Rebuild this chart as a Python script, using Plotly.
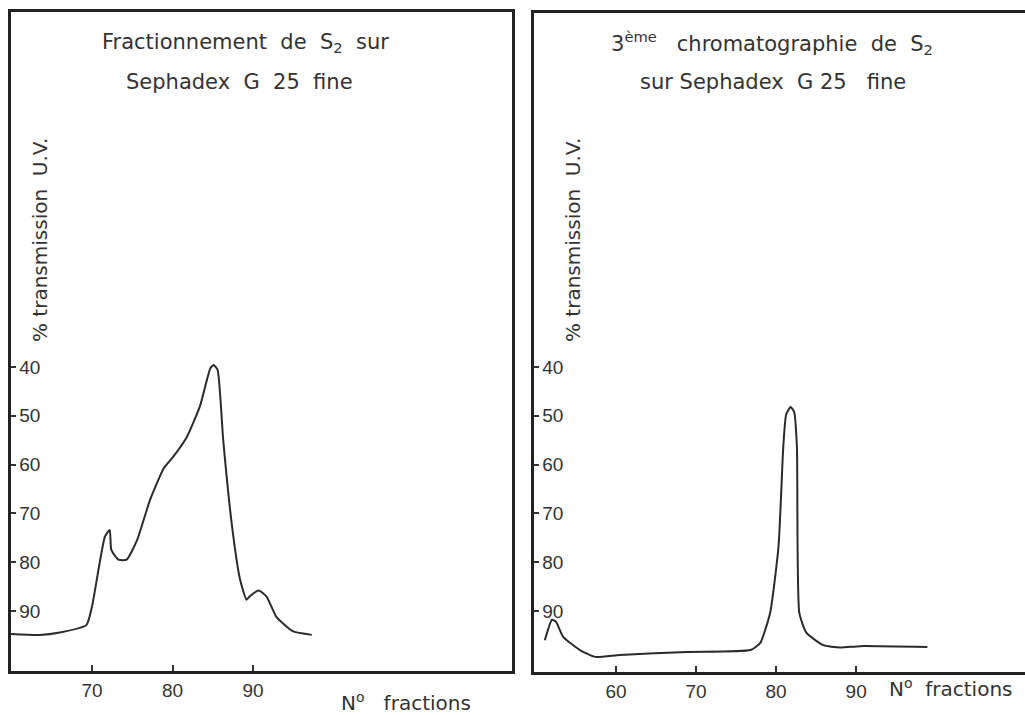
import plotly.graph_objects as go

W, H = 1025, 715

# Left panel: Fractionnement de S2 sur Sephadex G 25 fine
left_x = [59.8, 63.5, 66.0, 69.3, 70.0, 71.6, 72.2, 72.4, 73.3, 74.3, 75.6, 77.2, 78.9,
          80.1, 81.8, 83.4, 84.7, 85.1, 85.6, 86.3, 87.4, 88.4, 89.2, 89.6, 90.7, 91.7,
          92.9, 95.0, 97.3]
left_y = [94.7, 94.9, 94.4, 92.9, 89.1, 74.8, 73.4, 77.5, 79.5, 79.5, 75.5, 67.3, 60.8,
          58.4, 54.3, 48.1, 40.3, 39.6, 40.6, 55.0, 72.7, 83.6, 87.7, 87.0, 85.8, 87.1,
          91.2, 94.2, 94.9]

# Right panel: 3eme chromatographie de S2
right_x = [51.1, 52.0, 52.5, 53.4, 55.5, 57.4, 60.5, 68.9, 76.8, 78.0, 79.25, 80.3, 80.9,
           81.25, 81.8, 82.25, 82.6, 82.9, 83.8, 85.9, 88.0, 90.5, 98.9]
right_y = [96.0, 91.8, 92.2, 95.3, 98.0, 99.4, 99.0, 98.4, 98.0, 96.6, 90.4, 76.8, 56.3,
           49.8, 48.2, 49.2, 56.3, 90.4, 94.5, 97.0, 97.5, 97.2, 97.4]

left_xticks = [70, 80, 90]
right_xticks = [60, 70, 80, 90]
yticks = [40, 50, 60, 70, 80, 90]

ink = "#2b2b2b"
tickfont = dict(family="Liberation Sans", size=19, color="#333")
textfont = dict(family="DejaVu Sans", size=21, color="#333")
axisfont = dict(family="DejaVu Sans", size=20, color="#333")

fig = go.Figure()
fig.add_trace(go.Scatter(x=left_x, y=left_y, mode="lines", xaxis="x", yaxis="y",
                         line=dict(color=ink, width=2, shape="spline", smoothing=0.5),
                         showlegend=False, hoverinfo="skip"))
fig.add_trace(go.Scatter(x=right_x, y=right_y, mode="lines", xaxis="x2", yaxis="y2",
                         line=dict(color=ink, width=2, shape="spline", smoothing=0.5),
                         showlegend=False, hoverinfo="skip"))


def px(x):
    return x / W


def py(y):
    return 1 - y / H


common_x = dict(showgrid=False, zeroline=False, showline=True, linecolor="#222", linewidth=3,
                ticks="inside", ticklen=6, tickwidth=2, tickcolor="#333",
                tickfont=tickfont, fixedrange=True)
common_y = dict(showgrid=False, zeroline=False, showline=True, linecolor="#222", linewidth=3,
                ticks="inside", ticklen=5, tickwidth=2, tickcolor="#333",
                ticklabelposition="inside", ticklabelstandoff=4,
                tickfont=tickfont, fixedrange=True, tickvals=yticks)

fig.update_layout(
    width=W, height=H, margin=dict(l=0, r=0, t=0, b=0),
    paper_bgcolor="white", plot_bgcolor="white",
    xaxis=dict(domain=[px(11), px(512)], range=[59.94, 122.17], tickvals=left_xticks,
               anchor="y", mirror=True, **common_x),
    yaxis=dict(domain=[py(671), py(12)], range=[102.3, -32.7], anchor="x",
               mirror=True, **common_y),
    xaxis2=dict(domain=[px(534), 1.0], range=[49.75, 111.1], tickvals=right_xticks,
                anchor="y2", mirror=True, **common_x),
    yaxis2=dict(domain=[py(672), py(13)], range=[102.5, -32.5], anchor="x2",
                mirror=False, **common_y),
)

annots = [
    ("Fractionnement  de  S<sub>2</sub>  sur", 245, 43, 0, textfont),
    ("Sephadex  G  25  fine", 239, 82, 0, textfont),
    ("3<sup>ème</sup>   chromatographie  de  S<sub>2</sub>", 772, 43, 0, textfont),
    ("sur Sephadex  G 25   fine", 773, 82, 0, textfont),
    ("% transmission  U.V.", 40, 240, -90, axisfont),
    ("% transmission  U.V.", 573, 240, -90, axisfont),
    ("N<sup>o</sup>   fractions", 406, 702, 0, axisfont),
    ("N<sup>o</sup>  fractions", 951, 688, 0, axisfont),
]
for text, x, y, ang, fnt in annots:
    fig.add_annotation(text=text, x=px(x), y=py(y), xref="paper", yref="paper",
                       xanchor="center", yanchor="middle", showarrow=False,
                       textangle=ang, font=fnt)

fig.write_html("out.html", config={"displayModeBar": False},
               post_script="document.body.style.margin='0';")
